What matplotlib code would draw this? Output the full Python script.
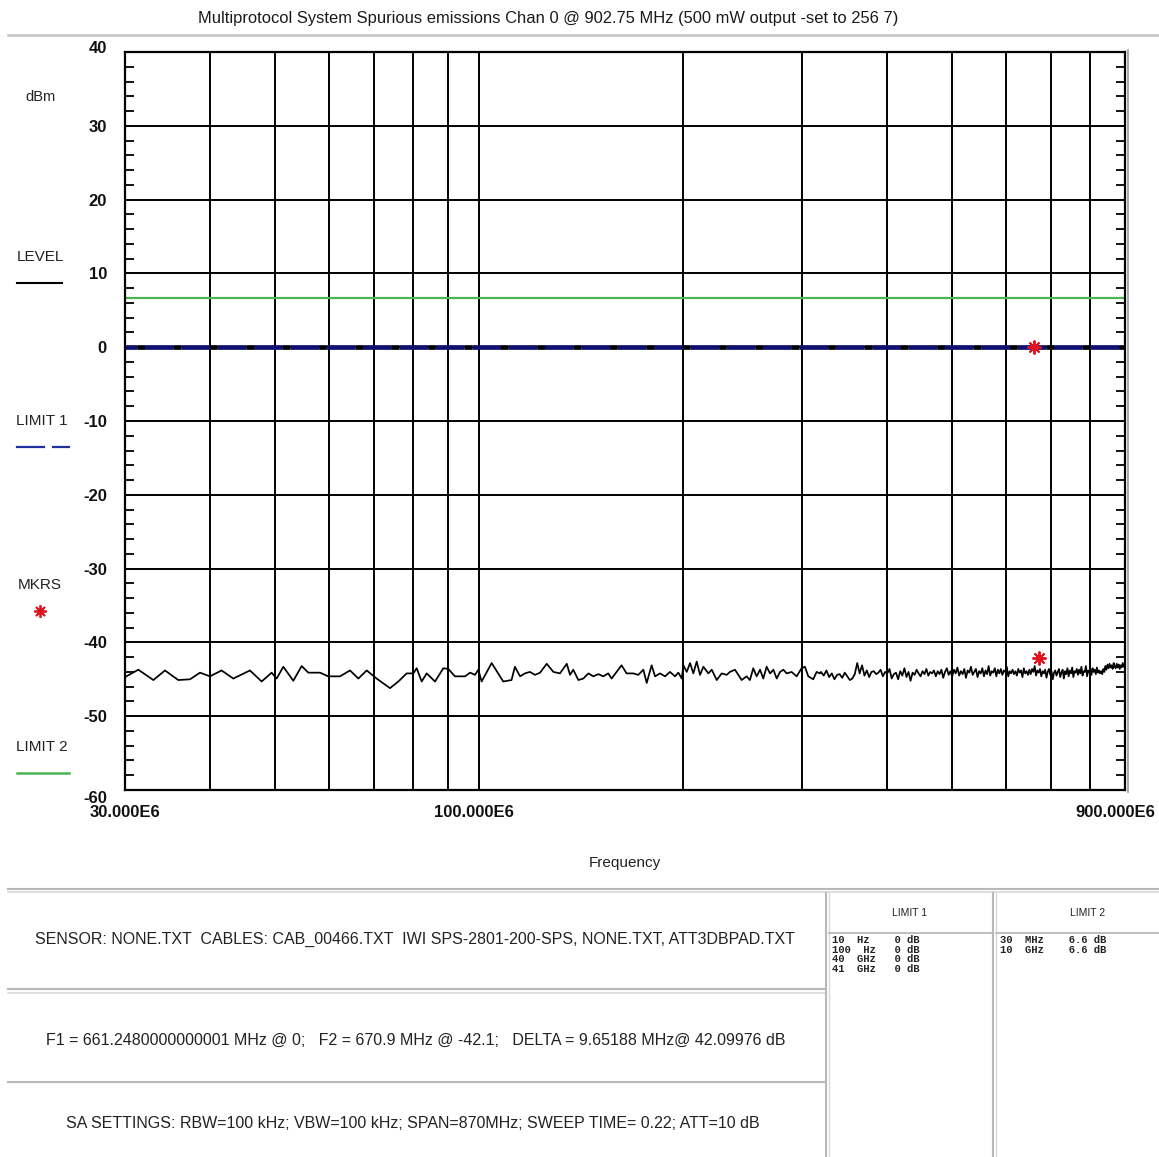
import matplotlib
matplotlib.use("Agg")
import matplotlib.pyplot as plt
from matplotlib.lines import Line2D
import matplotlib.transforms as mtransforms

plt.rcParams['font.family'] = ['Liberation Sans', 'DejaVu Sans']

# ---------------- data ----------------
TITLE = "Multiprotocol System Spurious emissions Chan 0 @ 902.75 MHz (500 mW output -set to 256 7)"

# measured trace (MHz, dBm) - low band
LOW_F = [30.0, 31.39, 33.04, 34.37, 35.96, 37.42, 38.72, 40.05, 41.67, 43.36,
         45.89, 47.75, 49.40, 50.25, 51.40, 53.18, 54.71, 55.97, 58.23, 59.90,
         62.33, 64.49, 66.35, 68.25, 70.61, 73.88, 76.01, 78.20, 79.99, 80.90,
         82.29, 83.70, 86.11, 88.58, 90.10, 92.16, 95.36, 97.0, 98.66, 99.78,
         100.9, 104.4, 108.6, 111.7, 113.0]
LOW_L = [-44.7, -43.7, -45.1, -43.8, -45.1, -45.0, -44.1, -44.6, -43.8, -44.9,
         -43.8, -45.3, -44.1, -44.9, -43.3, -45.2, -43.2, -44.1, -44.1, -44.6,
         -44.6, -43.8, -44.9, -43.8, -44.9, -46.2, -45.3, -44.2, -44.2, -43.5,
         -45.3, -44.2, -45.3, -43.5, -43.6, -44.6, -44.6, -44.1, -44.4, -43.7,
         -45.3, -42.8, -45.3, -45.1, -43.3]

# mid band
MID_F = [115.0, 116.9, 118.9, 121.0, 123.1, 125.9, 128.8, 131.7, 134.8, 136.3,
         137.8, 140.2, 142.6, 145.1, 147.5, 150.1, 152.6, 155.2, 157.0, 159.7,
         162.4, 165.2, 169.0, 171.9, 174.9, 176.9, 179.9, 182.0, 185.1, 188.3,
         191.5, 194.8, 197.0, 199.3, 200.4, 202.7, 205.0, 207.3, 209.7, 212.1,
         214.5, 218.2, 220.7, 224.5, 228.3, 232.2, 234.8, 238.8, 241.6, 244.3,
         248.5, 251.3, 254.2, 257.1, 260.1, 263.0, 266.0, 269.1, 272.2, 275.3,
         278.4, 281.6, 284.8, 289.6, 294.6, 299.6, 303.0, 306.5, 311.7, 315.3,
         318.9]
MID_L = [-44.6, -44.2, -44.0, -44.4, -44.1, -42.9, -44.0, -44.2, -42.9, -44.4,
         -43.7, -45.1, -44.9, -44.2, -44.6, -44.3, -44.6, -44.2, -44.9, -44.0,
         -43.1, -44.2, -44.2, -44.4, -43.7, -45.5, -43.1, -44.6, -44.2, -44.6,
         -44.0, -44.6, -44.1, -44.9, -43.1, -44.0, -42.8, -44.2, -42.6, -44.4,
         -43.3, -44.2, -43.7, -45.1, -44.2, -44.4, -44.0, -43.7, -44.4, -45.1,
         -44.6, -45.1, -43.5, -44.6, -43.7, -44.9, -43.3, -44.2, -43.7, -44.9,
         -44.0, -43.7, -44.2, -44.0, -44.6, -43.5, -43.3, -44.6, -45.0, -44.0,
         -44.2]

# high band
HIGH_F = [320, 323, 326, 329, 332, 335, 338, 341, 344, 347,
          350, 353, 356, 359, 362, 365, 368, 371, 374, 377,
          380, 383, 386, 389, 392, 395, 398, 401, 404, 407,
          410, 413, 416, 419, 422, 425, 428, 431, 434, 437,
          440, 443, 446, 449, 452, 455, 458, 461, 464, 467,
          470, 473, 476, 479, 482, 485, 488, 491, 494, 497,
          500, 503, 506, 509, 512, 515, 518, 521, 524, 527,
          530, 533, 536, 539, 542, 545, 548, 551, 554, 557,
          560, 563, 566, 569, 572, 575, 578, 581, 584, 587,
          590, 593, 596, 599, 602, 605, 608, 611, 614, 617,
          620, 623, 626, 629, 632, 635, 638, 641, 644, 647,
          650, 653, 656, 659, 662, 665, 668, 671, 674, 677,
          680, 683, 686, 689, 692, 695, 698, 701, 704, 707,
          710, 713, 716, 719, 722, 725, 728, 731, 734, 737,
          740, 743, 746, 749, 752, 755, 758, 761, 764, 767,
          770, 773, 776, 779, 782, 785, 788, 791, 794, 797,
          800, 803, 806, 809, 812, 815, 818, 821, 824, 827,
          830, 833, 836, 839, 842, 845, 848, 851, 854, 857,
          860, 863, 866, 869, 872, 875, 878, 881, 884, 887,
          890, 893, 896, 899]
HIGH_L = [-44.0, -44.5, -43.8, -44.7, -44.2, -45.0, -44.4, -44.3, -44.8, -44.1,
          -44.6, -45.1, -44.9, -44.3, -42.8, -44.2, -43.1, -44.5, -43.8, -44.7,
          -44.0, -43.9, -44.3, -44.1, -43.7, -44.6, -44.0, -44.2, -43.6, -44.9,
          -44.3, -44.1, -45.0, -43.9, -44.5, -43.5, -44.7, -44.0, -45.2, -44.1,
          -44.4, -43.7, -44.2, -44.6, -43.9, -44.3, -43.6, -44.5, -44.0, -44.2,
          -43.8, -44.6, -43.9, -44.3, -43.7, -44.8, -44.0, -43.5, -44.4, -43.9,
          -44.6, -43.7, -44.2, -43.4, -44.5, -43.9, -44.3, -43.6, -44.8, -43.8,
          -44.1, -43.3, -44.4, -44.0, -43.6, -44.7, -43.9, -44.2, -43.5, -44.6,
          -43.8, -44.3, -43.2, -44.5, -43.9, -44.1, -43.5, -44.6, -43.7, -44.2,
          -43.6, -44.4, -43.8, -44.0, -43.3, -44.6, -43.9, -44.2, -43.7, -44.3,
          -43.9, -44.5, -43.6, -44.1, -43.8, -44.7, -43.5, -44.2, -43.9, -44.4,
          -43.7, -44.3, -43.6, -44.0, -43.2, -44.5, -43.8, -44.1, -43.6, -44.6,
          -43.9, -44.2, -43.7, -44.8, -44.0, -43.6, -44.4, -43.9, -45.0, -44.1,
          -43.8, -44.5, -44.0, -43.6, -44.7, -44.1, -43.7, -44.9, -43.9, -44.3,
          -43.5, -44.6, -43.8, -44.2, -43.4, -44.7, -43.9, -44.1, -43.6, -44.4,
          -43.7, -44.2, -43.3, -44.5, -43.9, -44.0, -43.2, -44.6, -43.8, -44.1,
          -43.6, -44.4, -43.5, -44.0, -43.7, -44.3, -43.4, -44.1, -43.8, -44.2,
          -43.9, -44.3, -43.6, -44.0, -43.2, -43.7, -43.0, -43.5, -42.9, -43.4,
          -43.1, -43.6, -42.8, -43.3, -43.5, -42.9, -43.4, -43.0, -43.6, -43.1,
          -43.4, -42.8, -43.3, -43.0]

# limit lines (from tables)
LIMIT1_F_MHZ = [10e-6, 100e-6, 40000.0, 41000.0]
LIMIT1_DB = [0, 0, 0, 0]
LIMIT2_F_MHZ = [30.0, 10000.0]
LIMIT2_DB = [6.6, 6.6]

# markers
MKR_F = [661.248, 670.9]
MKR_DB = [0.0, -42.1]

GRID_F_MHZ = [40, 50, 60, 70, 80, 90, 100, 200, 300, 400, 500, 600, 700, 800]
Y_TICKS = [40, 30, 20, 10, 0, -10, -20, -30, -40, -50, -60]
X_TICKS_MHZ = [30, 100, 900]
X_TICK_LABELS = ["30.000E6", "100.000E6", "900.000E6"]

SENSOR_TXT = "SENSOR: NONE.TXT  CABLES: CAB_00466.TXT  IWI SPS-2801-200-SPS, NONE.TXT, ATT3DBPAD.TXT"
MKR_TXT = "F1 = 661.2480000000001 MHz @ 0;   F2 = 670.9 MHz @ -42.1;   DELTA = 9.65188 MHz@ 42.09976 dB"
SA_TXT = "SA SETTINGS: RBW=100 kHz; VBW=100 kHz; SPAN=870MHz; SWEEP TIME= 0.22; ATT=10 dB"
LIMIT1_TABLE = ["10  Hz    0 dB", "100  Hz   0 dB", "40  GHz   0 dB", "41  GHz   0 dB"]
LIMIT2_TABLE = ["30  MHz    6.6 dB", "10  GHz    6.6 dB"]

# ---------------- figure ----------------
W, H = 1159, 1157
fig = plt.figure(figsize=(W / 100, H / 100), dpi=100)
fig.patch.set_facecolor('white')

def fx(px):
    return px / W

def fy(py):
    return 1 - py / H

ax = fig.add_axes([fx(125), fy(790), 1000 / W, 738 / H])
ax.set_xscale('log')
ax.set_xlim(30e6, 900e6)
ax.set_ylim(-60, 40)

for f in GRID_F_MHZ:
    ax.axvline(f * 1e6, color='black', lw=1.4, zorder=1)
for y in range(-50, 40, 10):
    ax.axhline(y, color='black', lw=1.4, zorder=1)

# limit 2 (green)
ax.plot([f * 1e6 for f in LIMIT2_F_MHZ], LIMIT2_DB, color='#4cb455', lw=1.6, zorder=2)
# limit 1 (navy dashed with black gaps)
ax.plot([f * 1e6 for f in LIMIT1_F_MHZ], LIMIT1_DB, color='#101070', lw=3.4,
        dashes=(6.1, 1.6), gapcolor='black', zorder=3)

# trace
trace_f = [f * 1e6 for f in LOW_F + MID_F + HIGH_F]
trace_l = LOW_L + MID_L + HIGH_L
ax.plot(trace_f, trace_l, color='black', lw=1.25, zorder=4)

# markers
ax.plot([f * 1e6 for f in MKR_F], MKR_DB, linestyle='none', marker=(8, 2, 0),
        markersize=10, mew=1.4, color='#e0141e', zorder=5)

# ticks
ax.set_xticks([f * 1e6 for f in X_TICKS_MHZ])
ax.set_xticklabels(X_TICK_LABELS)
ax.xaxis.set_minor_locator(matplotlib.ticker.NullLocator())
ax.set_yticks(Y_TICKS)
ax.set_yticklabels([str(v) for v in Y_TICKS])
ax.set_yticks([v for v in range(-60, 41, 2) if v % 10 != 0], minor=True)
ax.tick_params(axis='both', which='major', length=0, labelsize=12, colors='#111111')
ax.tick_params(axis='x', which='major', pad=11)
ax.tick_params(axis='y', which='major', pad=13)
ax.tick_params(axis='y', which='minor', direction='in', length=6.5, width=1.3,
               left=True, right=True, color='black')
for lab in ax.get_xticklabels() + ax.get_yticklabels():
    lab.set_fontweight('bold')

# nudge end labels
ylabs = ax.get_yticklabels()
ylabs[0].set_transform(ylabs[0].get_transform() + mtransforms.ScaledTranslation(0, 5 / 100, fig.dpi_scale_trans))
ylabs[-1].set_transform(ylabs[-1].get_transform() + mtransforms.ScaledTranslation(0, -7 / 100, fig.dpi_scale_trans))
xlabs = ax.get_xticklabels()
xlabs[1].set_transform(xlabs[1].get_transform() + mtransforms.ScaledTranslation(-5 / 100, 0, fig.dpi_scale_trans))
xlabs[2].set_transform(xlabs[2].get_transform() + mtransforms.ScaledTranslation(-10 / 100, 0, fig.dpi_scale_trans))

for s in ax.spines.values():
    s.set_linewidth(1.6)
    s.set_color('black')
    s.set_zorder(6)

# double right edge
fig.add_artist(Line2D([fx(1128), fx(1128)], [fy(50), fy(792)], color='#9a9a9a', lw=1.2))

ax.set_xlabel("Frequency", fontsize=11, labelpad=26, color='#222222')

# title
fig.text(fx(548), fy(18), TITLE, ha='center', va='center', fontsize=11.9, color='#1a1a1a')
fig.add_artist(Line2D([fx(8), 1], [fy(35), fy(35)], color='#c4c4c4', lw=1.8))

# left legend
fig.text(fx(40), fy(97), "dBm", ha='center', va='center', fontsize=10.5, color='#222222')
fig.text(fx(40), fy(257), "LEVEL", ha='center', va='center', fontsize=11, color='#222222')
fig.add_artist(Line2D([fx(17), fx(62)], [fy(283), fy(283)], color='black', lw=1.5))
fig.text(fx(42), fy(421), "LIMIT 1", ha='center', va='center', fontsize=11, color='#222222')
fig.add_artist(Line2D([fx(17), fx(44)], [fy(447), fy(447)], color='#2030a0', lw=1.6))
fig.add_artist(Line2D([fx(53), fx(69)], [fy(447), fy(447)], color='#2030a0', lw=1.6))
fig.text(fx(40), fy(585), "MKRS", ha='center', va='center', fontsize=11, color='#222222')
fig.add_artist(Line2D([fx(40)], [fy(611)], marker=(8, 2, 0), markersize=9, mew=1.3,
                      color='#e0141e', linestyle='none'))
fig.text(fx(42), fy(747), "LIMIT 2", ha='center', va='center', fontsize=11, color='#222222')
fig.add_artist(Line2D([fx(17), fx(69)], [fy(773), fy(773)], color='#4cb455', lw=1.8))

# ---------------- bottom panel ----------------
gray = '#b8b8b8'
lgray = '#d8d8d8'
def hline(x0, x1, y, c=gray, lw=1.5):
    fig.add_artist(Line2D([fx(x0), fx(x1)], [fy(y), fy(y)], color=c, lw=lw))
def vline(x, y0, y1, c=gray, lw=1.5):
    fig.add_artist(Line2D([fx(x), fx(x)], [fy(y0), fy(y1)], color=c, lw=lw))

hline(8, 1159, 889, gray, 1.5)
hline(8, 1159, 892, lgray, 1.2)
hline(8, 826, 989, gray, 1.5)
hline(8, 826, 993, lgray, 1.2)
hline(8, 826, 1082, gray, 1.5)
vline(826, 893, 1157, gray, 1.5)
vline(829, 893, 1157, lgray, 1.0)
vline(993, 893, 1157, gray, 1.5)
vline(996, 893, 1157, lgray, 1.0)
hline(829, 993, 933, gray, 1.3)
hline(996, 1159, 933, gray, 1.3)

fig.text(fx(415), fy(939), SENSOR_TXT, ha='center', va='center', fontsize=11.5, color='#222222')
fig.text(fx(416), fy(1040), MKR_TXT, ha='center', va='center', fontsize=11.5, color='#222222')
fig.text(fx(413), fy(1123), SA_TXT, ha='center', va='center', fontsize=11.5, color='#222222')

fig.text(fx(910), fy(913), "LIMIT 1", ha='center', va='center', fontsize=7.5, color='#222222')
fig.text(fx(1088), fy(913), "LIMIT 2", ha='center', va='center', fontsize=7.5, color='#222222')
for i, row in enumerate(LIMIT1_TABLE):
    fig.text(fx(832), fy(940 + i * 9.6), row, ha='left', va='center', fontsize=7.6,
             family=['Liberation Mono', 'DejaVu Sans Mono'], fontweight='bold', color='#222222')
for i, row in enumerate(LIMIT2_TABLE):
    fig.text(fx(1000), fy(940 + i * 9.6), row, ha='left', va='center', fontsize=7.6,
             family=['Liberation Mono', 'DejaVu Sans Mono'], fontweight='bold', color='#222222')

fig.savefig("out.png", dpi=100, facecolor='white')
